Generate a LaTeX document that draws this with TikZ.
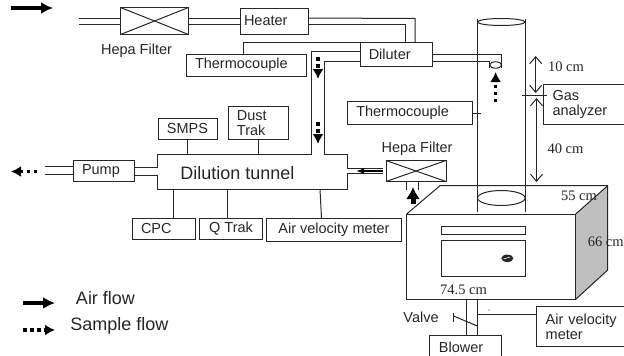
\documentclass[tikz,border=0pt]{standalone}
\usepackage{fontspec}
\setmainfont{Liberation Sans}
\newfontfamily\dimfont{Liberation Serif}
\usetikzlibrary{calc,arrows.meta}
\tikzstyle{every picture}=[>=latex]
\tikzstyle{unitbox}=[draw=black!85,line width=1pt,outer sep=0pt,inner xsep=9pt,inner ysep=0pt,align=left,text=black!85,font=\fontsize{14.5}{15}\selectfont]
\tikzstyle{label}=[text=black!85,inner sep=0pt,align=left,font=\fontsize{14.5}{15}\selectfont]
\tikzstyle{dimlabel}=[text=black!85,inner sep=0pt,font=\dimfont\fontsize{14.5}{15}\selectfont]
\tikzstyle{pipe}=[draw=black!85,line width=1pt]
\tikzstyle{airflow}=[-{Latex[length=12pt,width=12pt]},line width=3.5pt,black]
\tikzstyle{bigflow}=[-{Latex[length=12pt,width=14pt]},line width=5pt,black]
\tikzstyle{sampleflow}=[-{Latex[length=10pt,width=11pt]},line width=3.5pt,black,dash pattern=on 3.5pt off 3.5pt]
\tikzstyle{span}=[{Straight Barb[length=7pt,width=12pt]}-{Straight Barb[length=7pt,width=12pt]},draw=black!85,line width=1pt]
\begin{document}
\begin{tikzpicture}[x=1pt,y=-1pt]
\useasboundingbox (0,0) rectangle (624,356);
\clip (0,0) rectangle (624,356);
% Boxes of the sampling train
\node[unitbox,minimum width=68pt,minimum height=27pt] (hepaa) at (154.5,21) {};
\node[unitbox,inner xsep=4pt,text width=60pt,minimum height=26pt] (heater) at (274,21) {Heater};
\node[unitbox,text width=102pt,minimum height=22pt] (thermoa) at (246,65) {Thermocouple};
\node[unitbox,inner xsep=8pt,text width=55.5pt,minimum height=23.5pt] (diluter) at (396.5,54.5) {Diluter};
\node[unitbox,align=center,inner xsep=0pt,minimum width=59pt,minimum height=21.5pt] (smps) at (187.5,129) {SMPS};
\node[unitbox,inner xsep=8pt,text width=43.5pt,minimum height=33pt] (dusttrak) at (258.7,123) {Dust\\Trak};
\node[unitbox,text width=43pt,minimum height=21pt] (pump) at (103.5,171) {Pump};
\node[unitbox,text width=45pt,minimum height=21pt] (cpc) at (163.5,228.5) {CPC};
\node[unitbox,align=center,inner xsep=0pt,minimum width=63pt,minimum height=21pt] (qtrak) at (231,228.5) {Q Trak};
\node[unitbox,align=center,inner xsep=0pt,minimum width=135pt,minimum height=23pt] (airvela) at (334,229.5) {Air velocity meter};
\node[unitbox,text width=107.5pt,minimum height=23.5pt] (thermob) at (410,113) {Thermocouple};
\node[unitbox,text width=68.5pt,minimum height=40.5pt] (gas) at (586.75,104.25) {Gas\\analyzer};
\node[unitbox,minimum width=60pt,minimum height=21pt] (hepab) at (416,171) {};
\node[unitbox,text width=53.7pt,minimum height=25pt] (blower) at (465.8,347.5) {Blower};
\node[unitbox,text width=75.3pt,minimum height=40pt] (airvelb) at (583.35,326.7) {Air velocity\\meter};
\node[label] (hepaatext) at (136.5,51) {Hepa Filter};
\node[label] (hepabtext) at (417,149) {Hepa Filter};
\node[label,font=\fontsize{18}{18}\selectfont] (tunnel) at (237.5,173) {Dilution tunnel};
\node[label] (valve) at (421,317) {Valve};
% Crosses inside the filters
\draw[pipe] (hepaa.north west) -- (hepaa.south east);
\draw[pipe] (hepaa.south west) -- (hepaa.north east);
\draw[pipe] (hepab.north west) -- (hepab.south east);
\draw[pipe] (hepab.south west) -- (hepab.north east);
% Air line
\coordinate (ina) at (79,18);
\coordinate (inb) at (79,24);
\coordinate (topa) at (415,18.5);
\coordinate (topb) at (405.5,24);
\coordinate (tapa) at (243,42.5);
\draw[pipe] (ina) -- (ina -| hepaa.west);
\draw[pipe] (inb) -- (inb -| hepaa.west);
\draw[pipe] (ina -| hepaa.east) -- (ina -| heater.west);
\draw[pipe] (inb -| hepaa.east) -- (inb -| heater.west);
\draw[pipe] (ina -| heater.east) -- (topa) -- (topa |- diluter.north);
\draw[pipe] (inb -| heater.east) -- (topb) -- (topb |- diluter.north);
\draw[pipe] (tapa) -- (tapa -| diluter.west);
\draw[pipe] (tapa) -- (tapa |- thermoa.north);
% Dilution tunnel and the tube from the diluter
\coordinate (tunnelnw) at (157.5,154);
\coordinate (tunnelne) at (347,154);
\coordinate (tunnelsw) at (157.5,189.5);
\coordinate (tunnelse) at (347,189.5);
\coordinate (tubea) at (311.5,51);
\coordinate (tubeb) at (324.5,61);
\coordinate (pumpa) at (45,166.5);
\coordinate (pumpb) at (45,174);
\coordinate (filtera) at (383,168);
\coordinate (filterb) at (383,173.5);
\draw[pipe] (pumpa) -- (pumpa -| pump.west);
\draw[pipe] (pumpb) -- (pumpb -| pump.west);
\draw[pipe] (pump.east |- 0,167) -- (tunnelnw |- 0,167) -- (tunnelnw) -- (tunnelnw -| tubea) -- (tubea) -- (tubea -| diluter.west);
\draw[pipe] (tubeb -| diluter.west) -- (tubeb) -- (tubeb |- tunnelne) -- (tunnelne) -- (tunnelne |- filtera) -- (filtera);
\draw[pipe] (filterb) -- (tunnelse |- filterb) -- (tunnelse) -- (tunnelsw) -- (tunnelsw |- 0,175) -- (pump.east |- 0,175);
\draw[pipe] (smps.south) -- (smps.south |- tunnelnw);
\draw[pipe] (dusttrak.south) -- (dusttrak.south |- tunnelnw);
\coordinate (cpctap) at (173,218);
\coordinate (qtraktap) at (227,218);
\coordinate (airveltap) at (321.5,218);
\draw[pipe] (cpctap) -- (cpctap |- tunnelsw);
\draw[pipe] (qtraktap) -- (qtraktap |- tunnelsw);
\draw[pipe] (airveltap) -- (320,189.5);
% Stack with the probe
\coordinate (stackl) at (477.5,19);
\coordinate (stackr) at (525,19);
\coordinate (stackb) at (477.5,211.5);
\draw[pipe] (stackl) -- (stackb);
\draw[pipe] (stackr) -- (stackb -| stackr);
\draw[pipe] (501.3,22) ellipse (23.8pt and 3.5pt);
\draw[pipe] (501.3,198) ellipse (23.8pt and 7.5pt);
\coordinate (probea) at (501.7,54);
\coordinate (probeb) at (489.5,61);
\draw[pipe] (probea -| diluter.east) -- (probea) -- (501.7,68);
\draw[pipe] (probeb -| diluter.east) -- (probeb) -- (489.5,68);
\draw[pipe] (495.6,65) ellipse (6pt and 3.2pt);
\draw[pipe] (thermob.east) -- (481,113);
\draw[pipe] (522,95) -- (547,95);
% Oven
\fill[black!25] (575.7,214) -- (607.7,185.7) -- (607.7,270) -- (575.7,299.3) -- cycle;
\draw[pipe] (406.7,214) -- (440,185.7) -- (607.7,185.7) -- (607.7,270) -- (575.7,299.3);
\draw[pipe] (575.7,214) -- (607.7,185.7);
\draw[pipe] (406.7,214) rectangle (575.7,299.3);
\draw[pipe] (441.7,226.7) rectangle (525,234);
\draw[pipe] (441.7,240.7) rectangle (525,276.7);
\fill[black!85] (507.3,258.3) ellipse (6pt and 3.7pt);
\draw[white,line width=.6pt] (503.5,259) -- (510,257);
% Below the filter and the oven
\draw[pipe] (406,181.7) -- (406,190);
\draw[pipe] (418,181.7) -- (418,190);
\coordinate (blowa) at (466,299.3);
\coordinate (blowb) at (477.3,299.3);
\draw[pipe] (blowa) -- (blowa |- blower.north);
\draw[pipe] (blowb) -- (blowb |- blower.north);
\draw[pipe] (453.5,316) -- (477.3,326);
\draw[pipe] (453.5,313) -- (453.5,322);
\draw[pipe] (blowb |- 0,314) -- (airvelb.west |- 0,314);
\fill[black!85] (489,310) circle (.7pt);
% Sizes
\draw[span] (535.7,56) -- (535.7,93);
\draw[span] (536.5,98) -- (536.5,182);
\node[dimlabel] (dima) at (566,67) {10 cm};
\node[dimlabel] (dimb) at (565.5,149) {40 cm};
\node[dimlabel] (dimc) at (579,195.7) {55 cm};
\node[dimlabel] (dimd) at (605.7,242) {66 cm};
\node[dimlabel] (dime) at (463.5,290) {74.5 cm};
% Flow arrows
\draw[airflow] (11,8) -- (53,8);
\draw[bigflow] (413,204) -- (413,187);
\draw[-{Latex[length=8pt,width=6pt]},line width=1.5pt,black] (383,171) -- (356,171);
\draw[sampleflow] (318,57) -- (318,79);
\draw[sampleflow] (318,122) -- (318,144);
\draw[sampleflow] (495.6,102) -- (495.6,72);
\draw[sampleflow] (37,171.5) -- (11,171.5);
% Legend
\draw[airflow] (23,303) -- (55,303);
\draw[sampleflow] (23,330) -- (55,330);
\node[label,font=\fontsize{18}{18}\selectfont] (airtext) at (105.5,298) {Air flow};
\node[label,font=\fontsize{18}{18}\selectfont] (sampletext) at (119.5,326) {Sample flow};
\end{tikzpicture}
\end{document}
